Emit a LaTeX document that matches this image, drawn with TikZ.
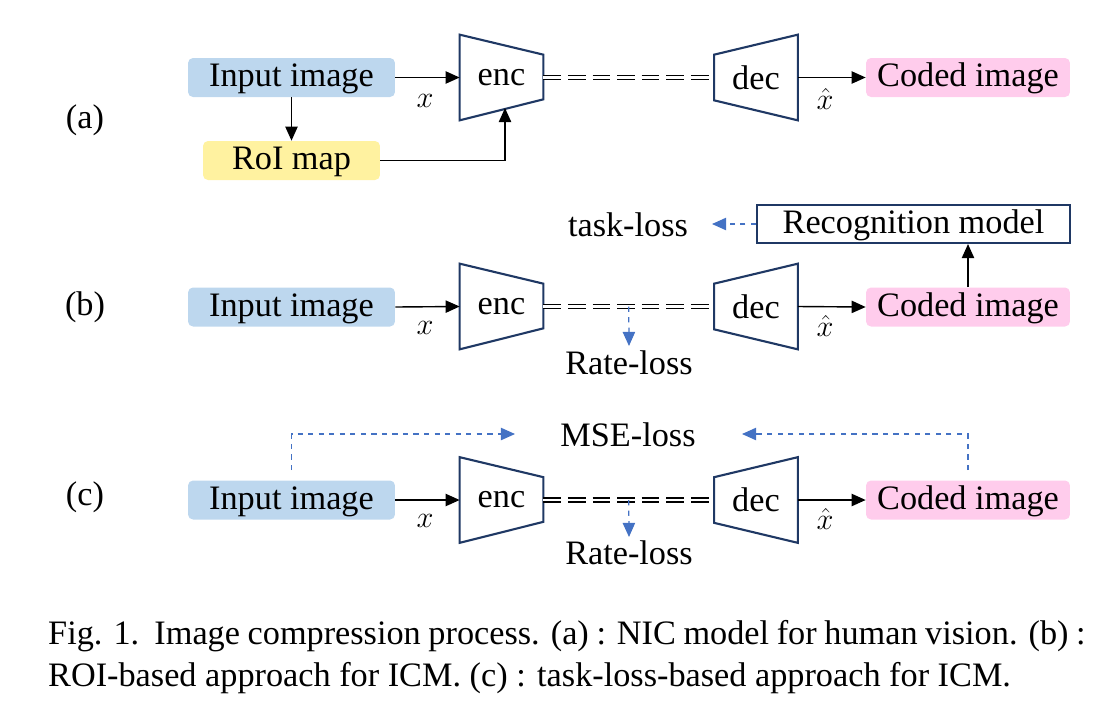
\documentclass[tikz,border=0pt]{standalone}
\usepackage{fontspec}
\setmainfont{Liberation Serif}
\definecolor{InBlue}{RGB}{189, 215, 238}
\definecolor{RoiYellow}{RGB}{255, 242, 160}
\definecolor{OutPink}{RGB}{255, 204, 236}
\definecolor{Navy}{RGB}{31, 56, 100}
\definecolor{LossBlue}{RGB}{68, 114, 196}
\usetikzlibrary{arrows.meta, positioning, calc}

% trapezoids drawn round an invisible node
\newcommand{\encshape}[1]{\draw[trap] (#1.north west) -- ($(#1.north east)+(0,-0.4cm)$) -- ($(#1.south east)+(0,0.42cm)$) -- (#1.south west) -- cycle;}
\newcommand{\decshape}[1]{\draw[trap] ($(#1.north west)+(0,-0.4cm)$) -- (#1.north east) -- (#1.south east) -- ($(#1.south west)+(0,0.4cm)$) -- cycle;}

\begin{document}
\begin{tikzpicture}[
    x=0.02cm, y=-0.02cm,
    every node/.style={font=\fontsize{19.5}{22}\selectfont, align=center},
    inbox/.style={fill=InBlue, rounded corners=0.1cm, minimum width=4.14cm, minimum height=0.78cm, inner sep=0, text height=13pt, text depth=2.6pt},
    roibox/.style={fill=RoiYellow, rounded corners=0.1cm, minimum width=3.54cm, minimum height=0.78cm, inner sep=0, text height=13pt, text depth=2.6pt},
    outbox/.style={fill=OutPink, rounded corners=0.1cm, minimum width=4.08cm, minimum height=0.78cm, inner sep=0, text height=13pt, text depth=2.6pt},
    recbox/.style={draw=Navy, line width=1.2pt, minimum width=6.26cm, minimum height=0.76cm, inner sep=0, text height=13pt, text depth=2.6pt},
    coder/.style={minimum width=1.66cm, minimum height=1.7cm, inner sep=0},
    trap/.style={draw=Navy, line width=1.2pt, line join=miter},
    flow/.style={-{Triangle[length=8pt, width=7pt]}, line width=0.8pt},
    latent/.style={double, double distance=1.3pt, line width=0.8pt, dash pattern=on 10pt off 4pt},
    loss/.style={-{Triangle[length=8pt, width=7pt]}, LossBlue, dashed, line width=0.7pt},
    sym/.style={font=\fontsize{19}{22}\selectfont},
    capt/.style={anchor=west, font=\fontsize{19.5}{22}\selectfont}
]
\useasboundingbox (0,0) rectangle (1105,721);

% (a)
\node at (85, 120) (laba) {(a)};
\node[inbox] at (291.5, 77.5) (inpa) {Input image};
\node[roibox] at (291.5, 160.5) (roia) {RoI map};
\node[coder] at (501.5, 77.5) (enca) {enc};
\node[coder] at (756, 77.5) (deca) {dec};
\node[outbox] at (968, 77.5) (codeda) {Coded image};
\encshape{enca}
\decshape{deca}
\coordinate (roiin) at (505, 108);
\draw[flow] (inpa.east) -- (enca.west);
\draw[flow] (inpa.south) -- (roia.north);
\draw[flow] (roia.east) -| (roiin);
\draw[latent] (enca.east) -- (deca.west);
\draw[flow] (deca.east) -- (codeda.west);
\node[sym] at (425, 101) (xa) {$x$};
\node[sym] at (825, 99) (xha) {$\hat{x}$};

% (b)
\node at (85, 307) (labb) {(b)};
\node[inbox] at (291.5, 307) (inpb) {Input image};
\node[coder] at (501.5, 306.5) (encb) {enc};
\node[coder] at (756, 306.5) (decb) {dec};
\node[outbox] at (968, 307) (codedb) {Coded image};
\node[recbox] at (913.5, 224) (recb) {Recognition model};
\node at (628, 225) (taskb) {task-loss};
\node at (629, 363) (rateb) {Rate-loss};
\encshape{encb}
\decshape{decb}
\coordinate (midb) at ($(encb.east)!0.5!(decb.west)$);
\coordinate (tasktip) at (712, 224);
\coordinate (ratetipb) at (629, 346);
\draw[flow] (inpb.east) -- (encb.west);
\draw[latent] (encb.east) -- (decb.west);
\draw[flow] (decb.east) -- (codedb.west);
\draw[flow] (codedb.north) -- (codedb.north |- recb.south);
\draw[loss] (recb.west) -- (tasktip);
\draw[loss] (midb) -- (ratetipb);
\node[sym] at (425, 328) (xb) {$x$};
\node[sym] at (825, 326) (xhb) {$\hat{x}$};

% (c)
\node at (85, 497) (labc) {(c)};
\node[inbox] at (291.5, 500) (inpc) {Input image};
\node[coder] at (501.5, 500) (encc) {enc};
\node[coder] at (756, 500) (decc) {dec};
\node[outbox] at (968, 500) (codedc) {Coded image};
\node at (628, 435) (msec) {MSE-loss};
\node at (629, 553) (ratec) {Rate-loss};
\encshape{encc}
\decshape{decc}
\coordinate (midc) at ($(encc.east)!0.5!(decc.west)$);
\coordinate (msel) at (515, 434);
\coordinate (mser) at (742, 434);
\coordinate (ratetipc) at (629, 537);
\draw[flow] (inpc.east) -- (encc.west);
\draw[latent] (encc.east) -- (decc.west);
\draw[flow] (decc.east) -- (codedc.west);
\draw[loss, shorten <=0.2cm] (inpc.north) |- (msel);
\draw[loss, shorten <=0.2cm] (codedc.north) |- (mser);
\draw[loss] (midc) -- (ratetipc);
\node[sym] at (425, 521) (xc) {$x$};
\node[sym] at (825, 519) (xhc) {$\hat{x}$};

% caption
\node[capt] at (42, 636) (capa) {\makebox[590.5pt][s]{Fig. 1.\ \ Image compression process. (a) : NIC model for human vision. (b) :}};
\node[capt] at (42, 678) (capb) {ROI-based approach for ICM. (c) : task-loss-based approach for ICM.};
\end{tikzpicture}
\end{document}
